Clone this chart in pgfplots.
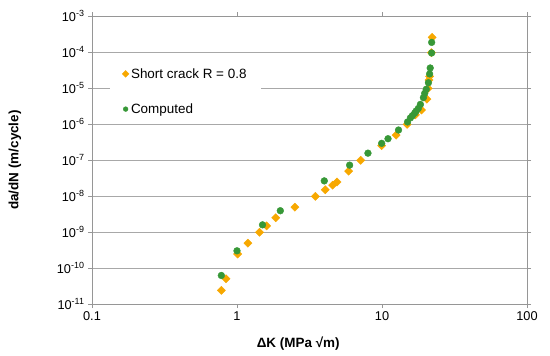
\documentclass[border=0pt]{standalone}
\usepackage{pgfplots}
\pgfplotsset{compat=1.18}
\usepackage{fontspec}
\setmainfont{Liberation Sans}
\definecolor{myorange}{RGB}{247,168,0}
\definecolor{mygreen}{RGB}{55,152,55}
\definecolor{gridgray}{RGB}{168,168,168}
\definecolor{axgray}{RGB}{150,150,150}
\begin{document}
\begin{tikzpicture}
\useasboundingbox (-92bp,-52bp) rectangle (458bp,304bp);
\begin{axis}[
  at={(0,0)}, anchor=south west, scale only axis,
  width=435bp, height=288bp,
  xmode=log, ymode=log,
  xmin=0.1, xmax=100, ymin=1e-11, ymax=1e-3,
  xtick={0.1,1,10,100}, xticklabels={0.1,1,10,100},
  ytick={1e-11,1e-10,1e-9,1e-8,1e-7,1e-6,1e-5,1e-4,1e-3},
  yticklabels={10\textsuperscript{-11},10\textsuperscript{-10},10\textsuperscript{-9},10\textsuperscript{-8},10\textsuperscript{-7},10\textsuperscript{-6},10\textsuperscript{-5},10\textsuperscript{-4},10\textsuperscript{-3}},
  xminorticks=false, yminorticks=false,
  tick align=outside, major tick length=4bp,
  tick style={axgray, line width=0.8pt},
  axis line style={axgray, line width=0.8pt},
  ymajorgrids, grid style={gridgray, line width=0.8pt},
  tick label style={font=\fontsize{12.8}{14}\selectfont},
  xlabel={ΔK (MPa √m)},
  ylabel={da/dN (m/cycle)},
  label style={font=\bfseries\fontsize{13.5}{15}\selectfont},
  xlabel style={at={(axis description cs:0.474,-0.139)}, anchor=center},
  ylabel style={at={(axis description cs:-0.177,0.5)}, anchor=center},
  legend style={at={(rel axis cs:0.0415,0.847)}, anchor=north west, draw=none, fill=white,
    font=\fontsize{13.5}{15}\selectfont, row sep=20bp, inner xsep=12bp, inner ysep=6bp},
  legend cell align=left,
  legend image code/.code={\draw[#1, mark size=2.4bp] plot coordinates {(0.15cm,0cm)};},
]
\addplot[only marks, mark=square*, mark size=2.9bp, mark options={rotate=45, fill=myorange, draw=myorange}, color=myorange]
coordinates {
(0.78,2.4e-11) (0.84,5e-11) (1.01,2.45e-10) (1.19,4.9e-10) (1.43,9.8e-10)
(1.6,1.48e-9) (1.85,2.5e-9) (2.51,4.9e-9) (3.47,9.8e-9) (4.06,1.5e-8)
(4.57,2.0e-8) (4.9,2.45e-8) (5.89,4.9e-8) (7.13,9.8e-8) (9.95,2.5e-7)
(12.5,4.9e-7) (14.9,9.8e-7) (17.0,1.8e-6) (18.7,2.45e-6) (20.4,4.9e-6)
(20.8,9.8e-6) (21.1,1.66e-5) (21.3,2.1e-5) (21.9,9.6e-5) (22.2,2.55e-4)
};
\addlegendentry{Short crack R = 0.8}
\addplot[only marks, mark=*, mark size=3.4bp, mark options={fill=mygreen, draw=mygreen}, color=mygreen]
coordinates {
(0.78,6.2e-11) (1.0,3.0e-10) (1.50,1.58e-9) (1.99,3.9e-9) (4.0,2.63e-8)
(5.98,7.2e-8) (8.0,1.55e-7) (9.95,2.9e-7) (11.0,3.9e-7) (13.0,6.8e-7)
(15.0,1.14e-6) (15.7,1.48e-6) (16.2,1.7e-6) (16.8,2.0e-6) (17.2,2.3e-6)
(17.8,2.7e-6) (18.4,3.5e-6) (19.3,5.4e-6) (19.7,7.1e-6) (20.2,9.2e-6)
(20.9,1.4e-5) (21.3,2.46e-5) (21.5,3.6e-5) (22.0,9.4e-5) (22.0,1.85e-4)
};
\addlegendentry{Computed}
\end{axis}
\end{tikzpicture}
\end{document}
